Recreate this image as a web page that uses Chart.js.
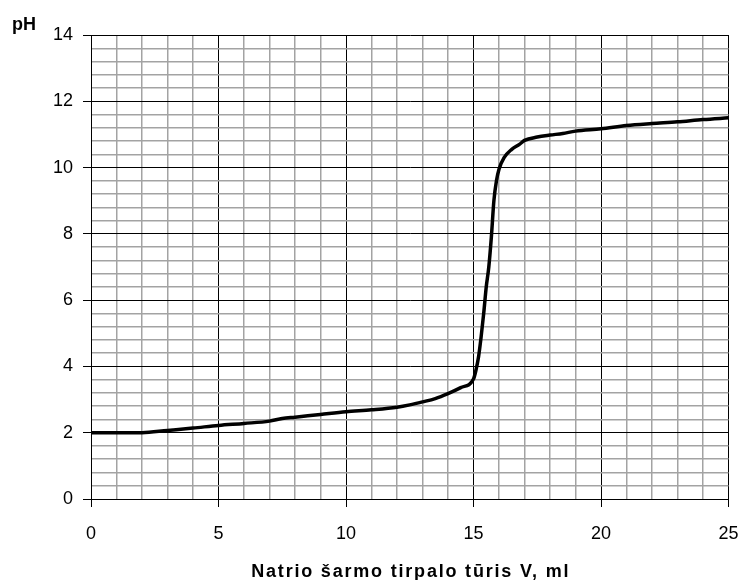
<!DOCTYPE html>
<html>
<head>
<meta charset="utf-8">
<script src="https://cdn.jsdelivr.net/npm/chart.js@4.4.1/dist/chart.umd.min.js"></script>
<style>
  html, body { margin: 0; padding: 0; background: #fff; overflow: hidden; }
  #wrap { width: 742px; height: 580px; position: relative; }
</style>
</head>
<body>
<div id="wrap"><canvas id="c"></canvas></div>
<script>
// titration curve: volume of NaOH (ml) vs pH
const volume = [0, 1, 2, 3, 4, 5, 6, 7, 7.5, 8, 9, 10, 11, 12, 12.5, 13, 13.5, 14, 14.5, 15,
  15.1, 15.2, 15.3, 15.4, 15.5, 15.6, 15.7, 15.8, 15.9, 16, 16.2, 16.5, 16.8, 17, 17.5,
  18, 18.5, 19, 20, 21, 22, 23, 24, 25];
const pH = [2.0, 2.0, 2.0, 2.07, 2.14, 2.22, 2.28, 2.35, 2.43, 2.47, 2.55, 2.63, 2.69, 2.77, 2.84, 2.93, 3.03, 3.18, 3.36, 3.62,
  3.9, 4.3, 4.9, 5.6, 6.4, 7.0, 7.9, 9.0, 9.6, 9.95, 10.3, 10.55, 10.7, 10.82, 10.92,
  10.98, 11.03, 11.1, 11.17, 11.27, 11.33, 11.38, 11.45, 11.5];

const xMajorTicks = [0, 5, 10, 15, 20, 25];
const yMajorTicks = [0, 2, 4, 6, 8, 10, 12, 14];
const xMinorStep = 1;
const yMinorStep = 0.4;
const xTitle = 'Natrio šarmo tirpalo tūris V, ml';
const yTitle = 'pH';

const FONT = "'Liberation Sans', Arial, sans-serif";
const GRID_MINOR = '#a3a3a3';

function buildTicks(max, step){
  const out = [];
  const n = Math.round(max / step);
  for (let i = 0; i <= n; i++) out.push({ value: Math.round(i * step * 1000) / 1000 });
  return out;
}
const isMajor = (list, v) => list.some(m => Math.abs(m - v) < 1e-6);

// axis titles drawn by hand (the pH label sits horizontally above the axis,
// the x title is spaced out a bit like the original)
const axisTitles = {
  id: 'axisTitles',
  afterDraw(chart){
    const ctx = chart.ctx, a = chart.chartArea;
    ctx.save();
    ctx.fillStyle = '#000';
    ctx.font = 'bold 18px ' + FONT;
    ctx.textBaseline = 'alphabetic';
    ctx.textAlign = 'left';
    ctx.fillText(yTitle, 12, 30);
    ctx.textAlign = 'center';
    if ('letterSpacing' in ctx) ctx.letterSpacing = '1.8px';
    ctx.fillText(xTitle, (a.left + a.right) / 2 + 1, 577);
    ctx.restore();
  }
};

new Chart(document.getElementById('c'), {
  type: 'line',
  data: {
    datasets: [{
      data: volume.map((v, i) => ({ x: v, y: pH[i] })),
      borderColor: '#000', borderWidth: 3.5, pointRadius: 0, fill: false,
      cubicInterpolationMode: 'monotone'
    }]
  },
  options: {
    responsive: true, maintainAspectRatio: false, animation: false,
    layout: { autoPadding: false, padding: { left: 0, top: 35, right: 13.5, bottom: 0 } },
    plugins: { legend: { display: false }, tooltip: { enabled: false } },
    scales: {
      x: {
        type: 'linear', min: 0, max: 25,
        afterBuildTicks: s => { s.ticks = buildTicks(25, xMinorStep); },
        afterFit: s => { s.height = 81; s.paddingLeft = 0; s.paddingRight = 0; },
        grid: {
          color: c => isMajor(xMajorTicks, c.tick.value) ? '#000' : GRID_MINOR,
          tickColor: c => isMajor(xMajorTicks, c.tick.value) ? '#000' : 'rgba(0,0,0,0)',
          lineWidth: c => isMajor(xMajorTicks, c.tick.value) ? 1 : 1.5,
          tickLength: 8
        },
        border: { color: '#000', width: 1 },
        ticks: {
          autoSkip: false, maxRotation: 0, color: '#000', padding: 16,
          font: { family: FONT, size: 18 },
          callback: v => isMajor(xMajorTicks, v) ? String(v) : ''
        }
      },
      y: {
        type: 'linear', min: 0, max: 14,
        afterBuildTicks: s => { s.ticks = buildTicks(14, yMinorStep); },
        afterFit: s => { s.width = 91; s.paddingTop = 0; s.paddingBottom = 0; },
        grid: {
          color: c => isMajor(yMajorTicks, c.tick.value) ? '#000' : GRID_MINOR,
          tickColor: c => isMajor(yMajorTicks, c.tick.value) ? '#000' : 'rgba(0,0,0,0)',
          lineWidth: c => isMajor(yMajorTicks, c.tick.value) ? 1 : 1.5,
          tickLength: 8
        },
        border: { color: '#000', width: 1 },
        ticks: {
          autoSkip: false, color: '#000', padding: 10,
          font: { family: FONT, size: 18 },
          callback: v => isMajor(yMajorTicks, v) ? String(v) : ''
        }
      }
    }
  },
  plugins: [axisTitles]
});
</script>
</body>
</html>
